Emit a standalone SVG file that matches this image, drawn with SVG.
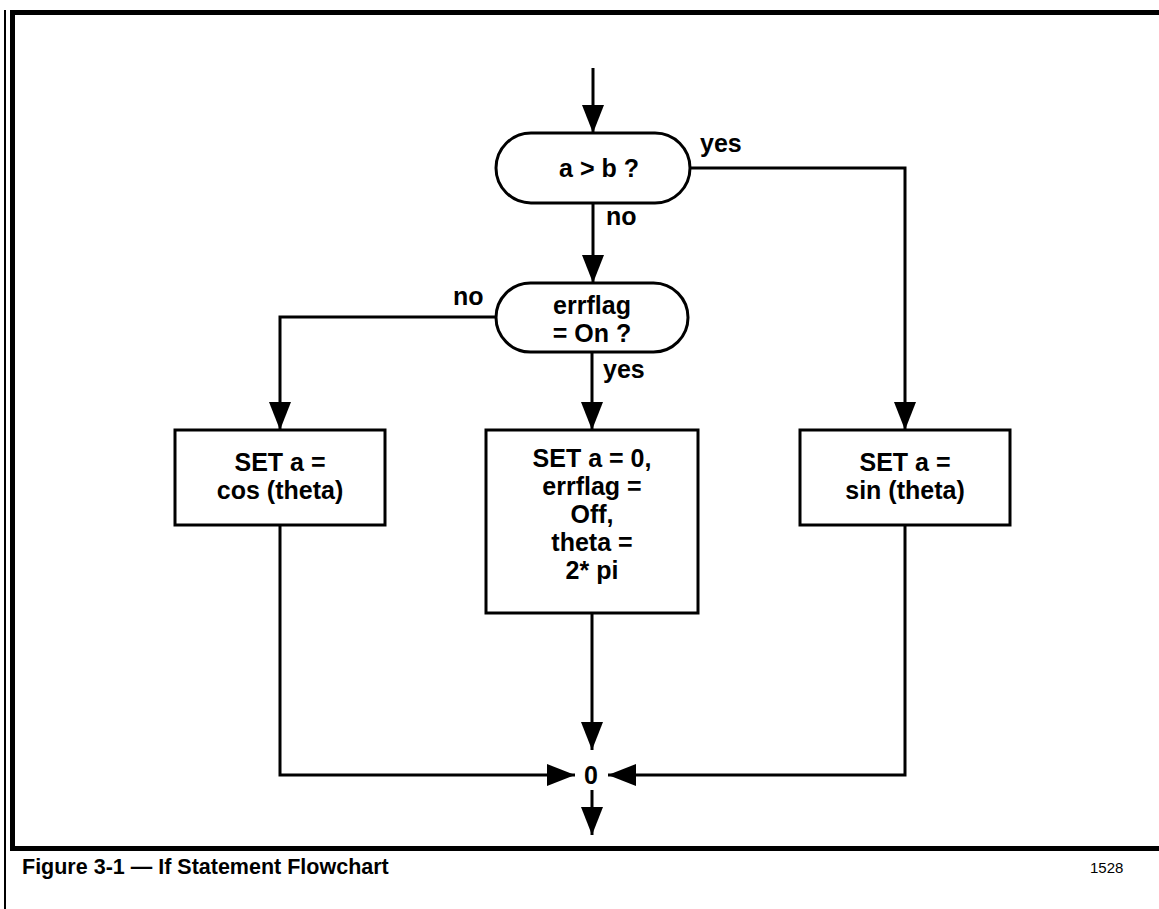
<svg xmlns="http://www.w3.org/2000/svg" width="1159" height="909" viewBox="0 0 1159 909">
<style>
.frame{stroke:#000;fill:none}
.node{fill:#fff;stroke:#000;stroke-width:3}
.t{font-family:"Liberation Sans",Arial,sans-serif;font-weight:bold;font-size:25px;fill:#000;text-anchor:middle}
.lbl{font-family:"Liberation Sans",Arial,sans-serif;font-weight:bold;font-size:25px;fill:#000}
.conn{fill:none;stroke:#000;stroke-width:3;marker-end:url(#ah)}
</style>
<defs>
<marker id="ah" viewBox="0 0 28 22" refX="28" refY="11" markerWidth="28" markerHeight="22" markerUnits="userSpaceOnUse" orient="auto">
<path d="M0,0 L28,11 L0,22 Z" fill="#000"/>
</marker>
</defs>
<rect width="1159" height="909" fill="#fff"/>
<g id="frame">
<line class="frame" x1="5" y1="10" x2="5" y2="909" stroke-width="2"/>
<line class="frame" x1="10" y1="12.5" x2="1159" y2="12.5" stroke-width="5"/>
<line class="frame" x1="12.5" y1="10" x2="12.5" y2="851" stroke-width="5"/>
<line class="frame" x1="10" y1="848.5" x2="1159" y2="848.5" stroke-width="5"/>
</g>
<g id="connectors">
<path class="conn" d="M593,68 V133"/>
<path class="conn" d="M690,168 H905 V430"/>
<path class="conn" d="M593,203 V283"/>
<path class="conn" d="M496,317 H280 V430"/>
<path class="conn" d="M592,352 V430"/>
<path class="conn" d="M280,525 V775 H575"/>
<path class="conn" d="M905,525 V775 H608"/>
<path class="conn" d="M592,613 V750"/>
<path class="conn" d="M592,790 V835"/>
</g>
<g id="d1">
<rect class="node" x="496" y="133" width="194" height="70" rx="35"/>
<text class="t" x="599" y="177">a &gt; b ?</text>
</g>
<g id="d2">
<rect class="node" x="496" y="283" width="192" height="69" rx="34.5"/>
<text class="t" x="592" y="314">errflag</text>
<text class="t" x="592" y="342">= On ?</text>
</g>
<g id="boxL">
<rect class="node" x="175" y="430" width="210" height="95"/>
<text class="t" x="280" y="471">SET a =</text>
<text class="t" x="280" y="499">cos (theta)</text>
</g>
<g id="boxM">
<rect class="node" x="486" y="430" width="212" height="183"/>
<text class="t" x="592" y="467">SET a = 0,</text>
<text class="t" x="592" y="495">errflag =</text>
<text class="t" x="592" y="523">Off,</text>
<text class="t" x="592" y="551">theta =</text>
<text class="t" x="592" y="579">2* pi</text>
</g>
<g id="boxR">
<rect class="node" x="800" y="430" width="210" height="95"/>
<text class="t" x="905" y="471">SET a =</text>
<text class="t" x="905" y="499">sin (theta)</text>
</g>
<g id="merge">
<text class="t" x="591" y="784">0</text>
</g>
<g id="labels">
<text class="lbl" x="700" y="152">yes</text>
<text class="lbl" x="606" y="225">no</text>
<text class="lbl" x="453" y="305">no</text>
<text class="lbl" x="603" y="378">yes</text>
</g>
<g id="caption">
<text x="22" y="874" font-family="Liberation Sans,Arial,sans-serif" font-weight="bold" font-size="21.5">Figure 3-1 — If Statement Flowchart</text>
<text x="1090" y="873" font-family="Liberation Sans,Arial,sans-serif" font-size="15">1528</text>
</g>
</svg>
